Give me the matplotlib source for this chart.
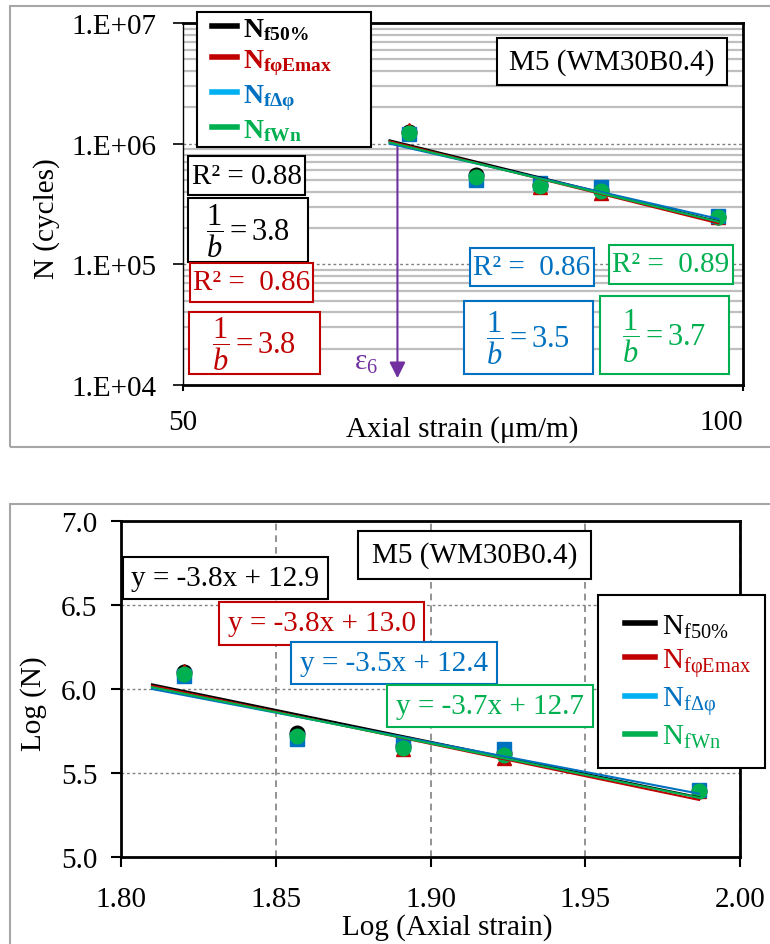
import numpy as np
import matplotlib
matplotlib.use('Agg')
import matplotlib.pyplot as plt
from matplotlib.lines import Line2D
from matplotlib.patches import Rectangle
from matplotlib.legend_handler import HandlerLine2D
from matplotlib.ticker import FixedLocator, NullLocator, LogLocator, FuncFormatter

plt.rcParams['font.family'] = ['Liberation Serif', 'DejaVu Serif']
plt.rcParams['mathtext.fontset'] = 'custom'
plt.rcParams['mathtext.rm'] = 'Liberation Serif'
plt.rcParams['mathtext.it'] = 'Liberation Serif:italic'
plt.rcParams['mathtext.bf'] = 'Liberation Serif:bold'

W, H = 770, 945
FS = 21

# data
strain = [66.1, 71.9, 77.8, 83.9, 97.0]          # axial strain, µm/m
log_n_f50 = [6.10, 5.74, 5.66, 5.62, 5.39]
log_n_fphi = [6.11, 5.72, 5.64, 5.59, 5.39]
log_n_fdphi = [6.08, 5.70, 5.67, 5.64, 5.40]
log_n_fwn = [6.09, 5.72, 5.65, 5.61, 5.39]
eps6 = 65.2
fit_start = 1.81

names_bold = [r'$\mathbf{N_{f50\%}}$', r'$\mathbf{N_{fφEmax}}$',
              r'$\mathbf{N_{fΔφ}}$', r'$\mathbf{N_{fWn}}$']
names = [r'$\mathrm{N_{f50\%}}$', r'$\mathrm{N_{fφEmax}}$',
         r'$\mathrm{N_{fΔφ}}$', r'$\mathrm{N_{fWn}}$']
r2_labels = ['R² = 0.88', 'R² =  0.86', 'R² =  0.86', 'R² =  0.89']
inv_b_labels = ['3.8', '3.8', '3.5', '3.7']
eq_labels = ['y = -3.8x + 12.9', 'y = -3.8x + 13.0',
             'y = -3.5x + 12.4', 'y = -3.7x + 12.7']

series = [log_n_f50, log_n_fphi, log_n_fdphi, log_n_fwn]
markers = ['o', '^', 's', 'o']
mcolors = ['black', '#C00000', '#0070C0', '#00B050']
txt_colors = ['black', '#C00000', '#0070C0', '#00B050']
leg_colors = ['black', '#C00000', '#00B0F0', '#00B050']
line_colors = ['black', '#C00000', '#0070C0', '#00B050']

log_strain = np.log10(strain)
fits = [np.polyfit(log_strain, s, 1) for s in series]
xfit = np.linspace(fit_start, log_strain[-1], 50)

fig = plt.figure(figsize=(W / 100, H / 100), dpi=100)


def px_box(x0, y0, x1, y1, txt, color, size=FS):
    fig.patches.append(Rectangle((x0 / W, 1 - y1 / H), (x1 - x0) / W, (y1 - y0) / H,
                                 transform=fig.transFigure, facecolor='white',
                                 edgecolor=color, lw=1.5, zorder=3))
    fig.text((x0 + x1) / 2 / W, 1 - (y0 + y1) / 2 / H, txt, color=color,
             fontsize=size, ha='center', va='center', zorder=4)


# panel frames (right side runs off the picture)
fig.patches.append(Rectangle((10 / W, 1 - 448 / H), 1.0, 441 / H, transform=fig.transFigure,
                             fill=False, edgecolor='#A6A6A6', lw=1.5, zorder=0))
fig.patches.append(Rectangle((10 / W, -0.05), 1.0, 1 - 505 / H + 0.05, transform=fig.transFigure,
                             fill=False, edgecolor='#A6A6A6', lw=1.5, zorder=0))

# ---------- top: log-log ----------
ax1 = fig.add_axes([183 / W, 1 - 386 / H, 560 / W, 362 / H])
ax1.set_xscale('log')
ax1.set_yscale('log')
ax1.set_xlim(50, 100)
ax1.set_ylim(1e4, 1e7)
ax1.set_axisbelow(True)
ax1.yaxis.set_minor_locator(LogLocator(base=10, subs=np.arange(2, 10)))
ax1.yaxis.grid(True, which='minor', color='#BFBFBF', lw=1.6, ls='-')
ax1.yaxis.grid(True, which='major', color='#808080', lw=1, ls=(0, (2, 2)))
ax1.set_xticks([50, 100], labels=['50', '100'])
ax1.xaxis.set_minor_locator(NullLocator())
ax1.yaxis.set_major_locator(FixedLocator([1e4, 1e5, 1e6, 1e7]))
ax1.yaxis.set_major_formatter(FuncFormatter(lambda v, p: '1.E+%02d' % round(np.log10(v))))
ax1.tick_params(axis='x', length=4.5, width=1.5, pad=13, labelsize=FS)
ax1.tick_params(axis='y', which='major', length=7, width=1.2, pad=12, labelsize=FS)
ax1.tick_params(axis='y', which='minor', length=0)
ax1.get_xticklabels()[1].set_horizontalalignment('right')
for side in ['top', 'right', 'bottom']:
    ax1.spines[side].set_linewidth(2)
ax1.spines['left'].set_linewidth(1)

for s, m, c in zip(series, markers, mcolors):
    ax1.plot(strain, 10 ** np.array(s), ls='none', marker=m, ms=10.5, color=c, zorder=3)
for f, c in zip(fits, line_colors):
    ax1.plot(10 ** xfit, 10 ** np.polyval(f, xfit), color=c, lw=1.5, zorder=4)

ax1.annotate('', xy=(eps6, 1.08e4), xytext=(eps6, 1.0e6),
             arrowprops=dict(arrowstyle='-|>', color='#7030A0', lw=1.5, mutation_scale=24))
ax1.text(62.7, 1.55e4, r'$\mathrm{ε}_6$', color='#7030A0', fontsize=FS, ha='center', va='center')

handles = [Line2D([], [], color=c, lw=4) for c in leg_colors]
leg1 = ax1.legend(handles, names_bold, loc='upper left',
                  bbox_to_anchor=(197 / W, 1 - 143 / H, 174 / W, 130 / H), mode='expand',
                  bbox_transform=fig.transFigure, fontsize=20, frameon=True, fancybox=False,
                  framealpha=1, edgecolor='black', handlelength=1.3, handletextpad=0.22,
                  labelspacing=0.19, borderpad=0.15, borderaxespad=0,
                  handler_map={Line2D: HandlerLine2D(xpad=0.4)})
leg1.get_frame().set_linewidth(1.5)
for t, c in zip(leg1.get_texts(), txt_colors):
    t.set_color(c)

fig.text(47 / W, 1 - 219 / H, 'N (cycles)', rotation=90, fontsize=FS, ha='center', va='center')
fig.text(462 / W, 1 - 430 / H, 'Axial strain (μm/m)', fontsize=FS, ha='center', va='center')

px_box(497, 39, 727, 86, 'M5 (WM30B0.4)', 'black')
top_r2 = [(188, 157, 305, 196), (190, 264, 313, 303), (470, 249, 594, 287), (609, 246, 733, 285)]
top_b = [(188, 199, 308, 263), (189, 313, 320, 375), (464, 302, 593, 375), (600, 297, 729, 375)]
for r, b, lab, ib, c in zip(top_r2, top_b, r2_labels, inv_b_labels, txt_colors):
    px_box(*r, lab, c)
    px_box(*b, r'$\dfrac{1}{b} = %s$' % ib, c, size=22)

# ---------- bottom: linear in logs ----------
ax2 = fig.add_axes([121 / W, 1 - 858 / H, 619 / W, 336 / H])
ax2.set_xlim(1.80, 2.00)
ax2.set_ylim(5.0, 7.0)
ax2.set_axisbelow(True)
ax2.xaxis.set_major_locator(FixedLocator([1.80, 1.85, 1.90, 1.95, 2.00]))
ax2.yaxis.set_major_locator(FixedLocator([5.0, 5.5, 6.0, 6.5, 7.0]))
ax2.xaxis.set_major_formatter(FuncFormatter(lambda v, p: '%.2f' % v))
ax2.yaxis.set_major_formatter(FuncFormatter(lambda v, p: '%.1f' % v))
ax2.xaxis.grid(True, color='#808080', lw=1.2, ls=(0, (4, 3)))
ax2.yaxis.grid(True, color='#808080', lw=1, ls=(0, (2, 2)))
ax2.tick_params(axis='both', length=7, width=1.5, labelsize=FS)
ax2.tick_params(axis='y', pad=10)
ax2.tick_params(axis='x', pad=14)
for side in ax2.spines:
    ax2.spines[side].set_linewidth(2)

for s, m, c in zip(series, markers, mcolors):
    ax2.plot(log_strain, s, ls='none', marker=m, ms=10.5, color=c, zorder=3)
for f, c in zip(fits, line_colors):
    ax2.plot(xfit, np.polyval(f, xfit), color=c, lw=1.5, zorder=4)

leg2 = ax2.legend(handles, names, loc='upper left',
                  bbox_to_anchor=(598 / W, 1 - 758 / H, 167 / W, 162 / H), mode='expand',
                  bbox_transform=fig.transFigure, fontsize=FS, frameon=True, fancybox=False,
                  framealpha=1, edgecolor='black', handlelength=1.34, handletextpad=0.25,
                  labelspacing=0.2, borderpad=0.6, borderaxespad=0,
                  handler_map={Line2D: HandlerLine2D(xpad=0.31)})
leg2.get_frame().set_linewidth(1.5)
for t, c in zip(leg2.get_texts(), txt_colors):
    t.set_color(c)

fig.text(34 / W, 1 - 704 / H, 'Log (N)', rotation=90, fontsize=FS, ha='center', va='center')
fig.text(447 / W, 1 - 928 / H, 'Log (Axial strain)', fontsize=FS, ha='center', va='center')

px_box(358, 532, 591, 580, 'M5 (WM30B0.4)', 'black')
eq_boxes = [(123, 558, 328, 600), (219, 603, 424, 646), (291, 643, 497, 685), (387, 686, 593, 728)]
for bx, lab, c in zip(eq_boxes, eq_labels, txt_colors):
    px_box(*bx, lab, c)

fig.savefig('out.png', dpi=100)
